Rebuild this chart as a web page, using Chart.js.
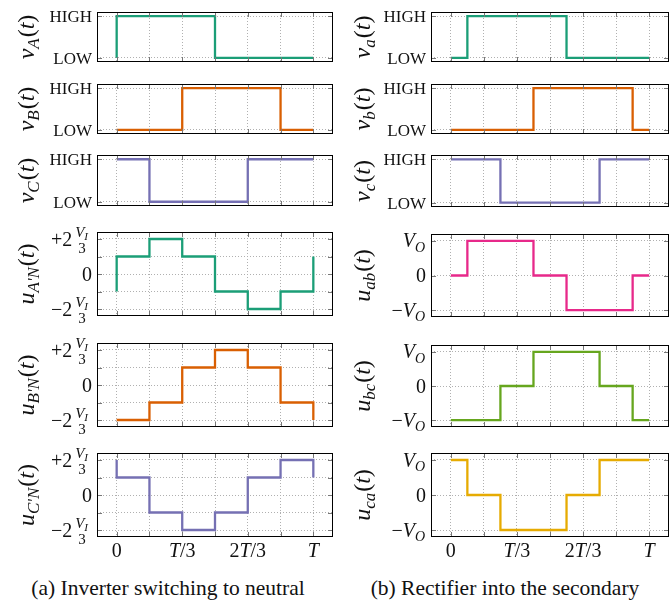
<!DOCTYPE html>
<html>
<head>
<meta charset="utf-8">
<script src="https://cdn.jsdelivr.net/npm/chart.js@4.4.1/dist/chart.umd.min.js"></script>
<style>
  body { margin: 0; background: #fff; width: 672px; height: 601px; position: relative; overflow: hidden; font-family: "Liberation Serif", "Times New Roman", serif; }
  canvas { position: absolute; }
  .cap { position: absolute; top: 576px; width: 336px; text-align: center; font-size: 21.5px; color: #111; white-space: nowrap; }
</style>
</head>
<body>
<div class="cap" style="left:0">(a) Inverter switching to neutral</div>
<div class="cap" style="left:337px">(b) Rectifier into the secondary</div>
<script>
// time axis is in twelfths of the period T
const xGrid = [0, 2, 4, 6, 8, 10, 12];
const xLabelAt = [0, 4, 8, 12];
const xLabels = [
  [['0', 'r']],
  [['T', 'i'], ['/3', 'r']],
  [['2', 'r'], ['T', 'i'], ['/3', 'r']],
  [['T', 'i']]
];

const logicTicks = [0, 1];          // LOW, HIGH
const logicLabels = ['LOW', 'HIGH'];
const phaseTicks = [-2, -1, 0, 1, 2]; // multiples of V_I/3
const lineTicks = [-1, 0, 1];        // multiples of V_O

// inverter side (a)
const tVA = [0, 0, 6, 12],              vA = [0, 1, 0, 0];
const tVB = [0, 4, 10, 12],             vB = [0, 1, 0, 0];
const tVC = [0, 2, 8, 12],              vC = [1, 0, 1, 1];
const tUA = [0, 0, 2, 4, 6, 8, 10, 12, 12], uA = [-1, 1, 2, 1, -1, -2, -1, -1, 1];
const tUB = [0, 2, 4, 6, 8, 10, 12, 12],    uB = [-2, -1, 1, 2, 1, -1, -1, -2];
const tUC = [0, 0, 2, 4, 6, 8, 10, 12, 12], uC = [2, 1, -1, -2, -1, 1, 2, 2, 1];

// rectifier side (b)
const tVa = [0, 1, 7, 12],              va = [0, 1, 0, 0];
const tVb = [0, 5, 11, 12],             vb = [0, 1, 0, 0];
const tVc = [0, 3, 9, 12],              vc = [1, 0, 1, 1];
const tUab = [0, 1, 5, 7, 11, 12],      uab = [0, 1, 0, -1, 0, 0];
const tUbc = [0, 3, 5, 9, 11, 12],      ubc = [-1, 0, 1, 0, -1, -1];
const tUca = [0, 1, 3, 7, 9, 12],       uca = [1, 0, -1, 0, 1, 1];

const colors = ['#1b9e77', '#d95f02', '#7570b3', '#e7298a', '#66a61e', '#e6ab02'];

// frame boxes (top, bottom) per row
const rowsL = [[12, 62], [84, 134], [155, 206], [232, 316], [343, 427], [453, 537]];
const rowsR = [[12, 62], [84, 134], [155, 207], [234, 317], [345, 427], [453, 537]];

const panels = [
  { col: 0, row: 0, t: tVA, y: vA, c: colors[0], kind: 'logic', title: [['v', 'i'], ['A', 'is'], ['(', 'r'], ['t', 'i'], [')', 'r']] },
  { col: 0, row: 1, t: tVB, y: vB, c: colors[1], kind: 'logic', title: [['v', 'i'], ['B', 'is'], ['(', 'r'], ['t', 'i'], [')', 'r']] },
  { col: 0, row: 2, t: tVC, y: vC, c: colors[2], kind: 'logic', title: [['v', 'i'], ['C', 'is'], ['(', 'r'], ['t', 'i'], [')', 'r']] },
  { col: 0, row: 3, t: tUA, y: uA, c: colors[0], kind: 'phase', title: [['u', 'i'], ["A'N", 'is'], ['(', 'r'], ['t', 'i'], [')', 'r']] },
  { col: 0, row: 4, t: tUB, y: uB, c: colors[1], kind: 'phase', title: [['u', 'i'], ["B'N", 'is'], ['(', 'r'], ['t', 'i'], [')', 'r']] },
  { col: 0, row: 5, t: tUC, y: uC, c: colors[2], kind: 'phase', title: [['u', 'i'], ["C'N", 'is'], ['(', 'r'], ['t', 'i'], [')', 'r']] },
  { col: 1, row: 0, t: tVa, y: va, c: colors[0], kind: 'logic', title: [['v', 'i'], ['a', 'is'], ['(', 'r'], ['t', 'i'], [')', 'r']] },
  { col: 1, row: 1, t: tVb, y: vb, c: colors[1], kind: 'logic', title: [['v', 'i'], ['b', 'is'], ['(', 'r'], ['t', 'i'], [')', 'r']] },
  { col: 1, row: 2, t: tVc, y: vc, c: colors[2], kind: 'logic', title: [['v', 'i'], ['c', 'is'], ['(', 'r'], ['t', 'i'], [')', 'r']] },
  { col: 1, row: 3, t: tUab, y: uab, c: colors[3], kind: 'line', title: [['u', 'i'], ['ab', 'is'], ['(', 'r'], ['t', 'i'], [')', 'r']] },
  { col: 1, row: 4, t: tUbc, y: ubc, c: colors[4], kind: 'line', title: [['u', 'i'], ['bc', 'is'], ['(', 'r'], ['t', 'i'], [')', 'r']] },
  { col: 1, row: 5, t: tUca, y: uca, c: colors[5], kind: 'line', title: [['u', 'i'], ['ca', 'is'], ['(', 'r'], ['t', 'i'], [')', 'r']] }
];

const FONT = '"Liberation Serif", "Times New Roman", "DejaVu Serif", serif';

function fontOf(kind, size) {
  const px = kind.length > 1 ? Math.round(size * 0.72) : size;
  return (kind[0] === 'i' ? 'italic ' : '') + px + 'px ' + FONT;
}
function runsWidth(ctx, runs, size) {
  let w = 0;
  for (const [s, k] of runs) { ctx.font = fontOf(k, size); w += ctx.measureText(s).width + (k.length > 1 ? 1 : 0); }
  return w;
}
function drawRuns(ctx, runs, x, y, size) {
  for (const [s, k] of runs) {
    ctx.font = fontOf(k, size);
    ctx.fillText(s, x, k.length > 1 ? y + size * 0.22 : y);
    x += ctx.measureText(s).width + (k.length > 1 ? 1 : 0);
  }
}

function labelsPlugin(p, last) {
  return {
    id: 'mathLabels',
    afterDraw(chart) {
      const ctx = chart.ctx;
      const a = chart.chartArea;
      const ys = chart.scales.y, xs = chart.scales.x;
      ctx.save();
      ctx.textBaseline = 'alphabetic';
      ctx.fillStyle = '#111';

      // small inner tick marks
      ctx.strokeStyle = '#777';
      ctx.lineWidth = 1;
      ctx.beginPath();
      for (const t of ys.ticks) {
        const py = Math.round(ys.getPixelForValue(t.value)) + 0.5;
        ctx.moveTo(a.left, py); ctx.lineTo(a.left + 5, py);
        ctx.moveTo(a.right - 5, py); ctx.lineTo(a.right, py);
      }
      for (const t of xs.ticks) {
        const px = Math.round(xs.getPixelForValue(t.value)) + 0.5;
        ctx.moveTo(px, a.top); ctx.lineTo(px, a.top + 5);
        ctx.moveTo(px, a.bottom - 5); ctx.lineTo(px, a.bottom);
      }
      ctx.stroke();

      // frame
      ctx.strokeStyle = '#000';
      ctx.strokeRect(a.left + 0.5, a.top + 0.5, a.right - a.left - 1, a.bottom - a.top - 1);

      // y tick labels
      const rx = a.left - 5;
      if (p.kind === 'logic') {
        ctx.font = '17px ' + FONT;
        ctx.textAlign = 'right';
        logicTicks.forEach((v, i) => {
          ctx.fillText(logicLabels[i], rx, ys.getPixelForValue(v) + 6);
        });
        ctx.textAlign = 'left';
      } else if (p.kind === 'phase') {
        const num = [['V', 'i'], ['I', 'is']], den = [['3', 'r']];
        for (const v of [2, 0, -2]) {
          const py = ys.getPixelForValue(v);
          if (v === 0) {
            const r = [['0', 'r']];
            drawRuns(ctx, r, rx - runsWidth(ctx, r, 20), py + 6.5, 20);
            continue;
          }
          const fr = a.left - 8;
          const nw = runsWidth(ctx, num, 15), dw = runsWidth(ctx, den, 15);
          const fw = Math.max(nw, dw);
          const cx = fr - fw / 2;
          drawRuns(ctx, num, cx - nw / 2, py - 2, 15);
          drawRuns(ctx, den, cx - dw / 2, py + 14, 15);
          const s = [[v > 0 ? '+2' : '\u22122', 'r']];
          drawRuns(ctx, s, fr - fw - 3 - runsWidth(ctx, s, 20), py + 7, 20);
        }
      } else {
        const labs = { '1': [['V', 'i'], ['O', 'is']], '0': [['0', 'r']], '-1': [['\u2212', 'r'], ['V', 'i'], ['O', 'is']] };
        for (const v of lineTicks) {
          const r = labs[String(v)];
          drawRuns(ctx, r, rx - runsWidth(ctx, r, 20), ys.getPixelForValue(v) + 6.5, 20);
        }
      }

      // rotated axis title
      const tw = runsWidth(ctx, p.title, 24);
      ctx.translate(28, (a.top + a.bottom) / 2);
      ctx.rotate(-Math.PI / 2);
      drawRuns(ctx, p.title, -tw / 2, 6, 24);
      ctx.setTransform(1, 0, 0, 1, 0, 0);

      // time labels under the last row
      if (last) {
        xLabelAt.forEach((v, i) => {
          const w = runsWidth(ctx, xLabels[i], 20);
          drawRuns(ctx, xLabels[i], xs.getPixelForValue(v) - w / 2, a.bottom + 20, 20);
        });
      }
      ctx.restore();
    }
  };
}

panels.forEach(p => {
  const [ft, fb] = (p.col === 0 ? rowsL : rowsR)[p.row];
  const last = p.row === 5;
  const padT = 20, padB = last ? 40 : 20;
  const frameLeft = p.col === 0 ? 97 : 95;
  const frameRight = 333;
  const W = 336, H = fb - ft + padT + padB;

  const cv = document.createElement('canvas');
  cv.width = W; cv.height = H;
  cv.style.left = (p.col * 336) + 'px';
  cv.style.top = (ft - padT) + 'px';
  document.body.appendChild(cv);

  const yTicks = p.kind === 'logic' ? logicTicks : p.kind === 'phase' ? phaseTicks : lineTicks;
  const yRange = p.kind === 'logic' ? [-0.1, 1.1] : p.kind === 'phase' ? [-2.4, 2.4] : [-1.2, 1.2];

  new Chart(cv.getContext('2d'), {
    type: 'line',
    data: {
      datasets: [{
        data: p.t.map((x, i) => ({ x: x, y: p.y[i] })),
        borderColor: p.c,
        borderWidth: 2.3,
        pointRadius: 0,
        stepped: 'before',
        fill: false
      }]
    },
    options: {
      responsive: false,
      animation: false,
      events: [],
      layout: { padding: { top: padT, bottom: padB, left: 0, right: W - frameRight } },
      plugins: { legend: { display: false }, tooltip: { enabled: false } },
      scales: {
        x: {
          type: 'linear', min: -1.2, max: 13.2,
          afterBuildTicks: s => { s.ticks = xGrid.map(v => ({ value: v })); },
          afterFit: s => { s.height = 0; },
          ticks: { display: false },
          grid: { color: '#b0b0b0', lineWidth: 1, drawTicks: false },
          border: { display: false, dash: [1, 2] }
        },
        y: {
          type: 'linear', min: yRange[0], max: yRange[1],
          afterBuildTicks: s => { s.ticks = yTicks.map(v => ({ value: v })); },
          afterFit: s => { s.width = frameLeft; },
          ticks: { display: false },
          grid: { color: '#b0b0b0', lineWidth: 1, drawTicks: false },
          border: { display: false, dash: [1, 2] }
        }
      }
    },
    plugins: [labelsPlugin(p, last)]
  });
});
</script>
</body>
</html>
